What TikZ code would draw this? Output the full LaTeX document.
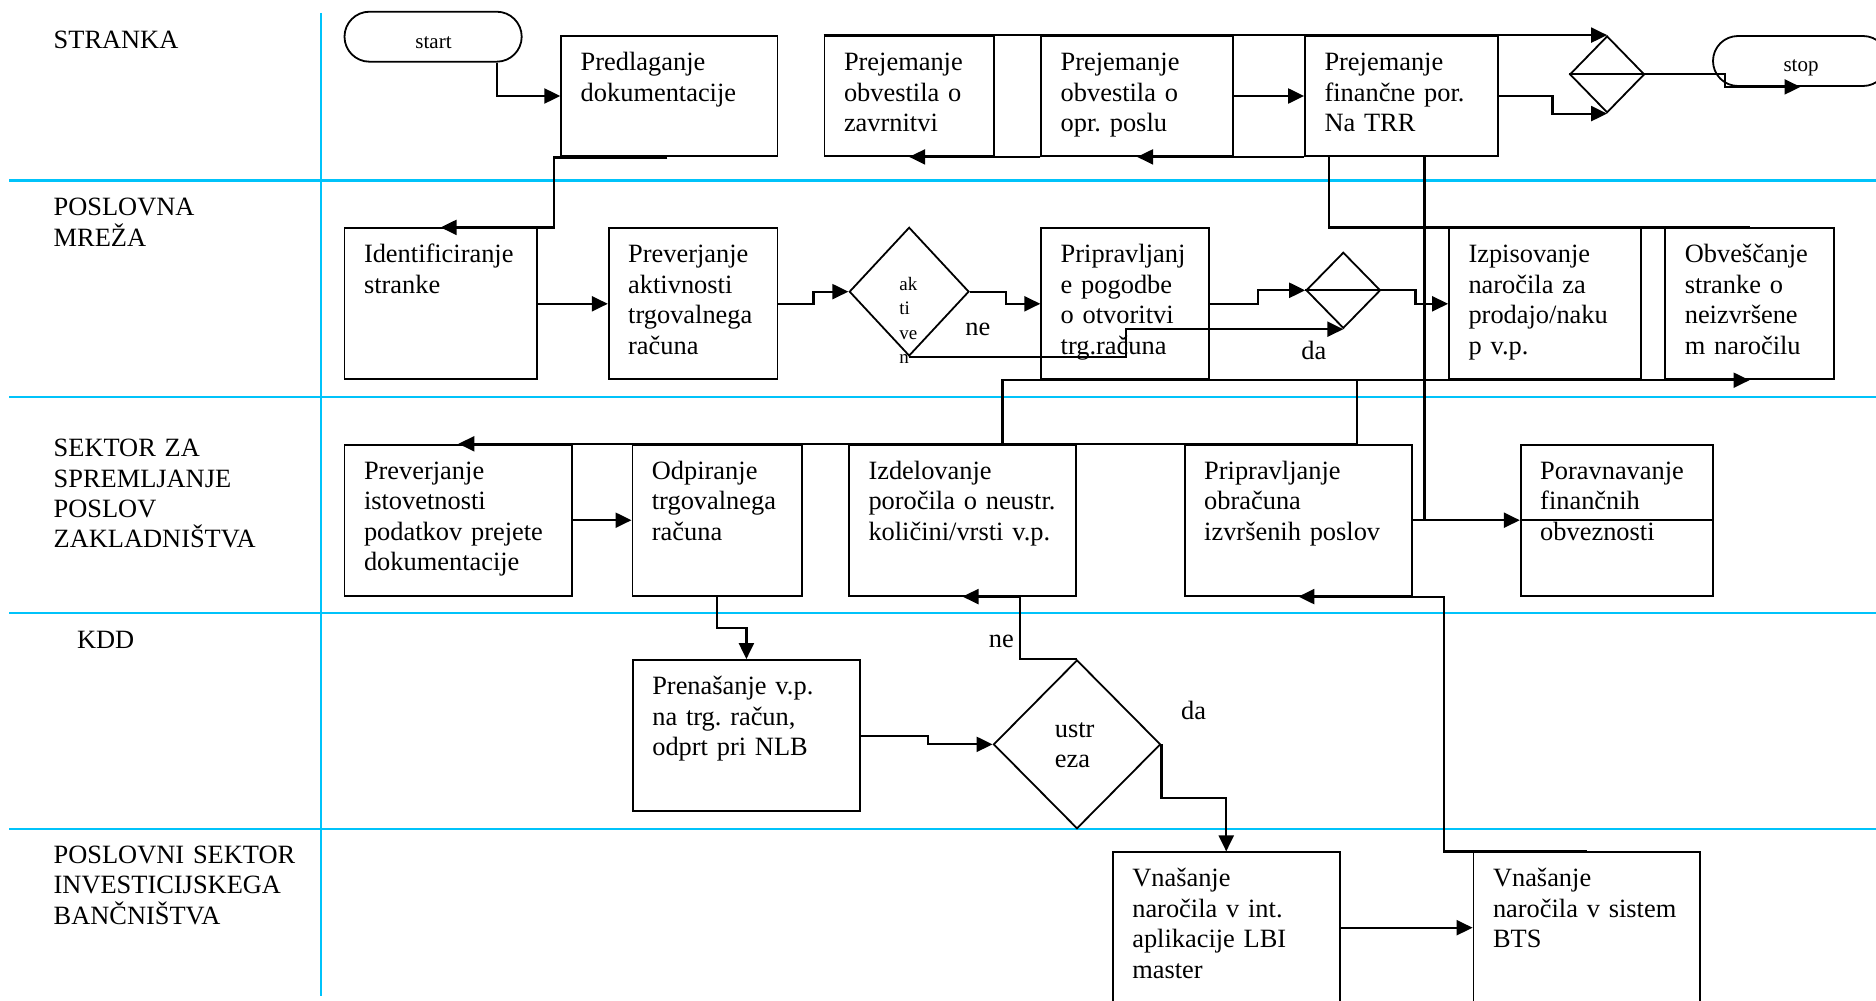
\documentclass[tikz,border=0pt]{standalone}
\usepackage{fontspec}
\setmainfont{Liberation Serif}
\usetikzlibrary{arrows.meta,shapes.geometric}
\definecolor{lanecol}{RGB}{0,195,250}
\newcommand\flowbox[6]{%
  \node[pbx, minimum width={(#4-#2)*0.5pt}, minimum height={(#5-#3)*0.5pt}] (#1) at ({(#2+#4)/2},{(#3+#5)/2}) {};
  \node[ptx] (#1-t) at ([shift={(20,35.5)}]#1.north west) {#6};
}
\begin{document}
\frenchspacing
\begin{tikzpicture}[x=0.5pt,y=-0.5pt,
  lane/.style={draw=lanecol, line width=1.1pt},
  pbx/.style={draw, rectangle, line width=0.9pt, inner sep=0pt},
  ptx/.style={anchor=base west, inner sep=0pt, text width=130pt, align=left, font=\fontsize{13.2}{15.2}\selectfont\frenchspacing},
  lbl/.style={anchor=base west, inner sep=0pt, text width=200pt, align=left, font=\fontsize{13.2}{15.2}\selectfont},
  small/.style={inner sep=0pt, font=\fontsize{10.5}{12}\selectfont},
  con/.style={line width=1.1pt},
  arr/.style={-{Triangle[length=8pt,width=7.5pt]}},
  dia/.style={draw, diamond, line width=0.9pt, inner sep=0pt},
  term/.style={draw, rectangle, rounded corners=12.5pt, line width=0.9pt, inner sep=0pt, minimum height=25pt}]
\useasboundingbox (0,0) rectangle (1876,1001);

% swimlanes
\draw[lane] (321,12.8) -- (321,996);
\foreach \yy in {180.5,396.7,612.7,829} \draw[lane] (9,\yy) -- (1876,\yy);

\node[lbl] (l1) at (53.3,48) {STRANKA};
\node[lbl] (l2) at (53.3,215.8) {POSLOVNA\\MREŽA};
\node[lbl] (l3) at (53.3,456.6) {SEKTOR ZA\\SPREMLJANJE\\POSLOV\\ZAKLADNIŠTVA};
\node[lbl] (l4) at (76.7,648) {KDD};
\node[lbl] (l5) at (53.3,863.3) {POSLOVNI SEKTOR\\INVESTICIJSKEGA\\BANČNIŠTVA};

% terminals
\node[term, minimum width=88.6pt] (start) at (433.1,36.7) {};
\node[small] (start-t) at (433.5,42.7) {start};
\node[term, minimum width=87.5pt] (stop) at (1800.5,61) {};
\node[small] (stop-t) at (1801,67.7) {stop};

% boxes
\flowbox{pred}{561.2}{36}{777.5}{156}{Predlaganje\\dokumentacije}
\flowbox{box1}{824.5}{36}{993.8}{156}{Prejemanje\\obvestila o\\zavrnitvi}
\flowbox{box2}{1041.2}{36}{1233}{156}{Prejemanje\\obvestila o\\opr. poslu}
\flowbox{box3}{1305}{36}{1497.6}{156}{Prejemanje\\finančne por.\\Na TRR}
\flowbox{ident}{344.5}{228.3}{536.7}{379.3}{Identificiranje\\stranke}
\flowbox{prev}{608.7}{228.3}{777.5}{379.3}{Preverjanje\\aktivnosti\\trgovalnega\\računa}
\flowbox{pogodba}{1041.2}{228.3}{1209.3}{379.3}{Pripravljanj\\e pogodbe\\o otvoritvi\\trg.računa}
\flowbox{izpis}{1449}{228.3}{1640.8}{379.3}{Izpisovanje\\naročila za\\prodajo/naku\\p v.p.}
\flowbox{obv}{1665.3}{228.3}{1833.7}{379.3}{Obveščanje\\stranke o\\neizvršene\\m naročilu}
\flowbox{previst}{344.5}{444.7}{572.3}{595.7}{Preverjanje\\istovetnosti\\podatkov prejete\\dokumentacije}
\flowbox{odp}{632.4}{444.7}{801.6}{595.7}{Odpiranje\\trgovalnega\\računa}
\flowbox{izdel}{849}{444.7}{1076}{595.7}{Izdelovanje\\poročila o neustr.\\količini/vrsti v.p.}
\flowbox{obr}{1184.7}{444.7}{1412}{595.7}{Pripravljanje\\obračuna\\izvršenih poslov}
\flowbox{porav}{1520.7}{444.7}{1713.3}{595.7}{Poravnavanje\\finančnih\\obveznosti}
\flowbox{pren}{632.8}{660}{860}{811.3}{Prenašanje v.p.\\na trg. račun,\\odprt pri NLB}
\flowbox{lbi}{1112.8}{852.3}{1339.7}{1003.1}{Vnašanje\\naročila v int.\\aplikacije LBI\\master}
\flowbox{bts}{1473.5}{852.3}{1700}{1003.1}{Vnašanje\\naročila v sistem\\BTS}

% decisions
\node[dia, minimum width=37.4pt, minimum height=38.35pt] (d1) at (1607.1,74.35) {};
\draw[line width=0.9pt] (d1.west) -- (d1.east);
\node[dia, minimum width=59.85pt, minimum height=64.35pt] (aktiven) at (909.15,291.65) {};
\node[anchor=base west, inner sep=0pt, text width=20pt, align=left, font=\fontsize{9.5}{12.3}\selectfont] (aktiven-t) at (899,290) {ak\\ti\\ve\\n};
\node[dia, minimum width=37.2pt, minimum height=38pt] (d3) at (1343.3,290.3) {};
\draw[line width=0.9pt] (d3.west) -- (d3.east);
\node[dia, minimum width=83.55pt, minimum height=84.35pt] (ustr) at (1077,744.35) {};
\node[ptx, text width=40pt] (ustr-t) at (1054.5,737.3) {ustr\\eza};

% connectors
\draw[con,arr] ([xshift=32pt]start.south) |- (pred.west);
\draw[con,arr] ([shift={(107,0.5)}]pred.south west) -- ++(-113,0) |- (ident.north);
\draw[con,arr] (ident.east) -- (prev.west);
\draw[con,arr] (prev.east) -- ++(35,0) |- (aktiven.west);
\draw[con,arr] (aktiven.east) -- ++(36,0) |- (pogodba.west);
\draw[con,arr] (aktiven.south) -- ++(217,0) |- (d3.south);
\draw[con,arr] (pogodba.east) -- ++(48,0) |- (d3.west);
\draw[con,arr] (d3.east) -- ++(34,0) |- (izpis.west);
\draw[con,arr] (box2.east) -- (box3.west);
\draw[con,arr] (box3.south west) -- (box2.south);
\draw[con,arr] (box2.south west) -- (box1.south);
\draw[con,arr] (box1.north west) -- (d1.north);
\draw[con,arr] (box3.east) -- ++(54,0) |- (d1.south);
\draw[con,arr] (d1.east) -- ++(79.5,0) |- (stop.south);
\draw[con] ([xshift=-36.15pt]box3.south) |- (obv.north);
\draw[con] ([xshift=11.6pt]box3.south) -- ([xshift=11.6pt]box3.south |- porav.west);
\draw[con,arr] (obr.east) -- (porav.west);
\draw[con] (porav.west) -- (porav.east);
\draw[con,arr] ([xshift=20pt]izdel.north) |- (obv.south);
\draw[con] ([xshift=29.2pt]obr.north) -- ([xshift=29.2pt]obr.north |- obv.south);
\draw[con,arr] ([xshift=29.2pt]obr.north) -- (previst.north);
\draw[con,arr] (previst.east) -- (odp.west);
\draw[con,arr] (odp.south) -- ++(0,31) -| (pren.north);
\draw[con,arr] (pren.east) -- ++(67,0) |- (ustr.west);
\draw[con,arr] (ustr.north) -- ++(-57.2,0) |- (izdel.south);
\draw[con,arr] (ustr.east) -- ++(0,54) -| (lbi.north);
\draw[con,arr] (bts.north) -| ([xshift=15.4pt]obr.south east) -- (obr.south);
\draw[con,arr] (lbi.east) -- (bts.west);

% branch labels
\node[ptx, text width=30pt] (ne1) at (965,335) {ne};
\node[ptx, text width=30pt] (da1) at (1301,359.3) {da};
\node[ptx, text width=30pt] (ne2) at (988.4,647.7) {ne};
\node[ptx, text width=30pt] (da2) at (1180.8,719) {da};
\end{tikzpicture}
\end{document}
